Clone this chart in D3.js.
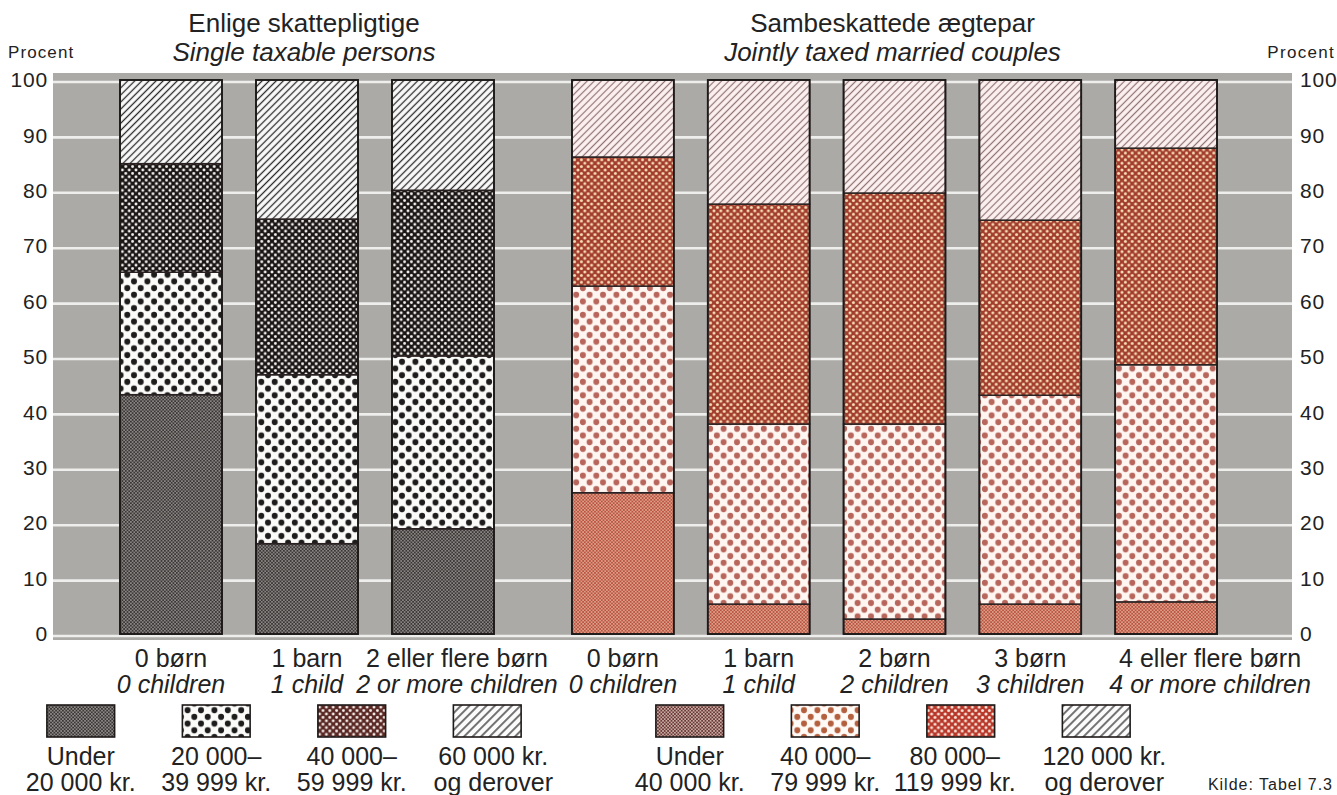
<!DOCTYPE html>
<html>
<head>
<meta charset="utf-8">
<script src="https://cdn.jsdelivr.net/npm/d3@7"></script>
<style>
  html, body { margin: 0; padding: 0; background: #ffffff; }
  svg { display: block; font-family: "Liberation Sans", Arial, Helvetica, sans-serif; }
</style>
</head>
<body>
<svg id="chart" width="1337" height="795"></svg>
<script>
// ---------------- DATA ----------------
const singleCatsDa = ["0 børn", "1 barn", "2 eller flere børn"];
const singleCatsEn = ["0 children", "1 child", "2 or more children"];
const coupleCatsDa = ["0 børn", "1 barn", "2 børn", "3 børn", "4 eller flere børn"];
const coupleCatsEn = ["0 children", "1 child", "2 children", "3 children", "4 or more children"];

// Enlige skattepligtige (percent of each bar)
const singleUnder20 = [43.2, 16.3, 19.0];
const single20to40  = [22.1, 30.5, 31.2];
const single40to60  = [19.6, 28.1, 29.9];
const single60plus  = [15.1, 25.1, 19.9];

// Sambeskattede ægtepar (percent of each bar)
const coupleUnder40  = [25.5, 5.4, 2.7, 5.4, 5.8];
const couple40to80   = [37.3, 32.5, 35.2, 37.7, 42.8];
const couple80to120  = [23.3, 39.7, 41.7, 31.6, 39.1];
const couple120plus  = [13.9, 22.4, 20.4, 25.3, 12.3];

const yTicks = [0, 10, 20, 30, 40, 50, 60, 70, 80, 90, 100];

const singleLegend = [["Under", "20 000 kr."], ["20 000–", "39 999 kr."], ["40 000–", "59 999 kr."], ["60 000 kr.", "og derover"]];
const coupleLegend = [["Under", "40 000 kr."], ["40 000–", "79 999 kr."], ["80 000–", "119 999 kr."], ["120 000 kr.", "og derover"]];

const titleSingle = ["Enlige skattepligtige", "Single taxable persons"];
const titleCouple = ["Sambeskattede ægtepar", "Jointly taxed married couples"];
const axisTitle = "Procent";
const sourceNote = "Kilde: Tabel 7.3";

// ---------------- LAYOUT ----------------
const svg = d3.select("#chart");
const defs = svg.append("defs");
const textColor = "#222";

function dotPattern(id, bg, fg, pitch, r) {
  const p = defs.append("pattern").attr("id", id).attr("patternUnits", "userSpaceOnUse")
    .attr("width", pitch).attr("height", pitch);
  p.append("rect").attr("width", pitch).attr("height", pitch).attr("fill", bg);
  [[0,0],[pitch,0],[0,pitch],[pitch,pitch],[pitch/2,pitch/2]].forEach(([cx,cy]) =>
    p.append("circle").attr("cx", cx).attr("cy", cy).attr("r", r).attr("fill", fg));
}
function hatchPattern(id, bg, fg, spacing, sw) {
  const p = defs.append("pattern").attr("id", id).attr("patternUnits", "userSpaceOnUse")
    .attr("width", spacing).attr("height", spacing).attr("patternTransform", "rotate(45)");
  p.append("rect").attr("width", spacing).attr("height", spacing).attr("fill", bg);
  p.append("line").attr("x1", spacing/2).attr("x2", spacing/2).attr("y1", 0).attr("y2", spacing)
    .attr("stroke", fg).attr("stroke-width", sw);
}

// bar patterns
dotPattern("sA", "#3a3636", "#a4a09c", 3.4, 0.85);
dotPattern("sB", "#fbfbfa", "#1e1c1c", 13.4, 3.0);
dotPattern("sC", "#1a1616", "#f4f2ee", 6.8, 1.45);
hatchPattern("sD", "#fbfbfb", "#2a2a2a", 5.0, 1.3);
dotPattern("cA", "#b9533f", "#e9b7a2", 3.4, 0.85);
dotPattern("cB", "#fff6f2", "#b8665c", 13.4, 3.0);
dotPattern("cC", "#a23c2d", "#f6dcb4", 6.8, 1.5);
hatchPattern("cD", "#fcf0f0", "#8f7472", 5.0, 1.2);
// legend patterns
dotPattern("lsA", "#3a3636", "#a9a5a1", 3.4, 0.85);
dotPattern("lsB", "#fbfbfa", "#1e1c1c", 13.4, 3.0);
dotPattern("lsC", "#5a2824", "#f4ece8", 6.8, 1.45);
hatchPattern("lsD", "#fbfbfb", "#2a2a2a", 6.0, 1.3);
dotPattern("lcA", "#6a3733", "#e6d2cc", 3.4, 0.85);
dotPattern("lcB", "#fffaf6", "#b4603e", 13.4, 3.0);
dotPattern("lcC", "#b8362a", "#f8e6d8", 6.8, 1.5);
hatchPattern("lcD", "#fbfbfb", "#2a2a2a", 6.0, 1.3);

const y = d3.scaleLinear().domain([0, 100]).range([634, 80]);

const xSingle = d3.scaleBand().domain(singleCatsDa.map((d, i) => i)).range([103, 511])
  .paddingInner(0.25).paddingOuter(0.125);
const xCouple = d3.scaleBand().domain(coupleCatsDa.map((d, i) => i)).range([555, 1234])
  .paddingInner(0.25).paddingOuter(0.125);

// gray panel
const panelX0 = 53, panelX1 = 1292;
svg.append("rect").attr("x", panelX0).attr("y", 73).attr("width", panelX1 - panelX0).attr("height", 567)
  .attr("fill", "#acaaa7");
svg.append("g").selectAll("line").data(yTicks).join("line")
  .attr("x1", panelX0).attr("x2", panelX1)
  .attr("y1", d => y(d) + 2).attr("y2", d => y(d) + 2)
  .attr("stroke", "#eeeeec").attr("stroke-width", 2.6);

// axes
function styleAxis(g) {
  g.select(".domain").remove();
  g.selectAll("text").attr("fill", textColor).style("font-size", "21px")
    .style("font-family", "'Liberation Sans', Arial, sans-serif").style("letter-spacing", "0.8px");
}
svg.append("g").attr("transform", `translate(${panelX0},0)`)
  .call(d3.axisLeft(y).tickValues(yTicks).tickSize(0).tickPadding(5)).call(styleAxis);
svg.append("g").attr("transform", `translate(${panelX1},0)`)
  .call(d3.axisRight(y).tickValues(yTicks).tickSize(0).tickPadding(8)).call(styleAxis);

svg.append("text").attr("x", 8).attr("y", 58).text(axisTitle)
  .attr("fill", textColor).style("font-size", "17px").style("letter-spacing", "1.1px");
svg.append("text").attr("x", 1335).attr("y", 58).attr("text-anchor", "end").text(axisTitle)
  .attr("fill", textColor).style("font-size", "17px").style("letter-spacing", "1.3px");

// stacked bars
function drawGroup(x, series, patterns) {
  const n = series[0].length;
  const rows = d3.range(n).map(i => {
    const o = { i };
    series.forEach((s, k) => o["k" + k] = s[i]);
    return o;
  });
  const keys = series.map((s, k) => "k" + k);
  const stacked = d3.stack().keys(keys)(rows);
  const g = svg.append("g");
  stacked.forEach((layer, k) => {
    g.selectAll(null).data(layer).join("rect")
      .attr("x", d => x(d.data.i))
      .attr("width", x.bandwidth())
      .attr("y", d => y(d[1]))
      .attr("height", d => y(d[0]) - y(d[1]))
      .attr("fill", `url(#${patterns[k]})`)
      .attr("stroke", "#2a2222").attr("stroke-width", 1.5);
  });
  g.selectAll(null).data(rows).join("rect")
    .attr("x", d => x(d.i)).attr("width", x.bandwidth())
    .attr("y", y(100)).attr("height", y(0) - y(100))
    .attr("fill", "none").attr("stroke", "#1e1a1a").attr("stroke-width", 1.8);
}
drawGroup(xSingle, [singleUnder20, single20to40, single40to60, single60plus], ["sA", "sB", "sC", "sD"]);
drawGroup(xCouple, [coupleUnder40, couple40to80, couple80to120, couple120plus], ["cA", "cB", "cC", "cD"]);

// titles
function title(lines, cx) {
  svg.append("text").attr("x", cx).attr("y", 32).attr("text-anchor", "middle").text(lines[0])
    .attr("fill", textColor).style("font-size", "26px");
  svg.append("text").attr("x", cx).attr("y", 61).attr("text-anchor", "middle").text(lines[1])
    .attr("fill", textColor).style("font-size", "26px").style("font-style", "italic");
}
title(titleSingle, (xSingle.range()[0] + xSingle.range()[1]) / 2 - 3);
title(titleCouple, (xCouple.range()[0] + xCouple.range()[1]) / 2 - 2);

// category labels (long labels shifted to the right as in the original)
function catLabels(x, da, en, shift) {
  const g = svg.append("g").attr("fill", textColor).style("font-size", "25px");
  g.selectAll(null).data(da).join("text")
    .attr("x", (d, i) => x(i) + x.bandwidth() / 2 + shift[i]).attr("y", 667)
    .attr("text-anchor", "middle").text(d => d);
  g.selectAll(null).data(en).join("text")
    .attr("x", (d, i) => x(i) + x.bandwidth() / 2 + shift[i]).attr("y", 693)
    .attr("text-anchor", "middle").style("font-style", "italic").text(d => d);
}
catLabels(xSingle, singleCatsDa, singleCatsEn, [0, 0, 14]);
catLabels(xCouple, coupleCatsDa, coupleCatsEn, [0, 0, 0, 0, 44]);

// legends
function legend(labels, patterns, x0, shift) {
  const lx = d3.scaleBand().domain(labels.map((d, i) => i)).range([x0, x0 + 4 * 135.5])
    .paddingInner(0.5).paddingOuter(0.25);
  const g = svg.append("g");
  g.selectAll(null).data(labels).join("rect")
    .attr("x", (d, i) => lx(i)).attr("y", 705).attr("width", lx.bandwidth()).attr("height", 32)
    .attr("fill", (d, i) => `url(#${patterns[i]})`).attr("stroke", "#1e1a1a").attr("stroke-width", 1.6);
  [0, 1].forEach(r => {
    g.selectAll(null).data(labels).join("text")
      .attr("x", (d, i) => lx(i) + lx.bandwidth() / 2 + shift[i]).attr("y", r === 0 ? 765 : 791)
      .attr("text-anchor", "middle").attr("fill", textColor).style("font-size", "25px")
      .text(d => d[r]);
  });
}
legend(singleLegend, ["lsA", "lsB", "lsC", "lsD"], 13, [0, 0, 0, 6]);
legend(coupleLegend, ["lcA", "lcB", "lcC", "lcD"], 622, [0, 0, -6, 8]);

svg.append("text").attr("x", 1333).attr("y", 790).attr("text-anchor", "end").text(sourceNote)
  .attr("fill", textColor).style("font-size", "16px").style("letter-spacing", "1px");
</script>
</body>
</html>
